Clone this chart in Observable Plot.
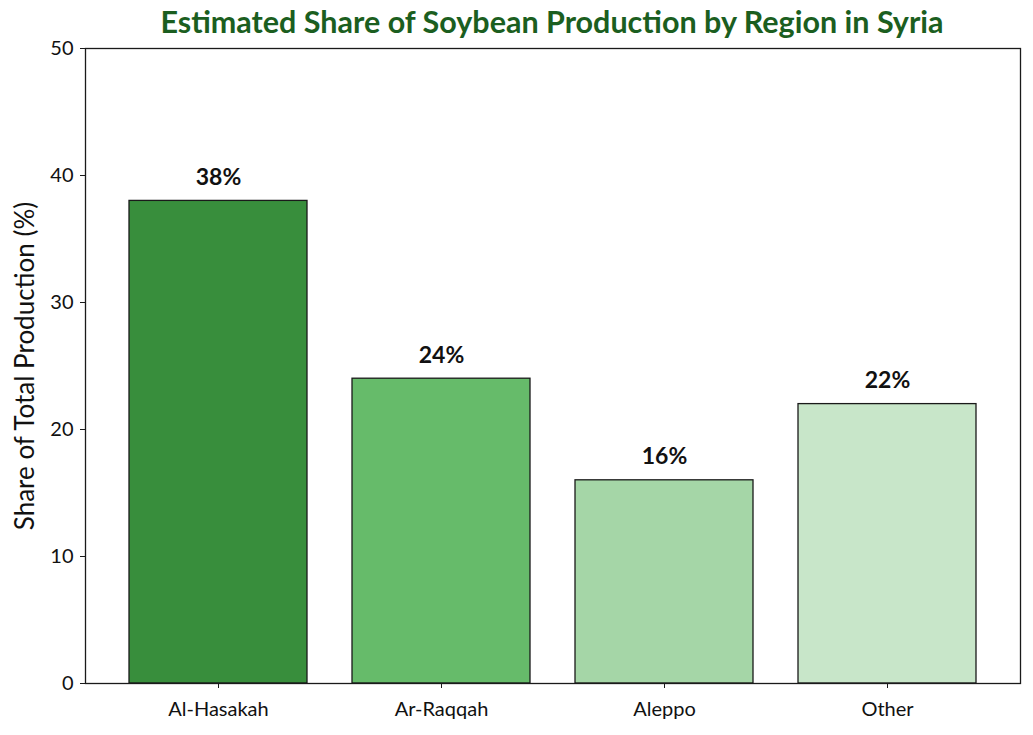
<!DOCTYPE html>
<html>
<head>
<meta charset="utf-8">
<script src="https://cdn.jsdelivr.net/npm/d3@7"></script>
<script src="https://cdn.jsdelivr.net/npm/@observablehq/plot@0.6"></script>
<style>
  body { margin: 0; background: #fff; font-family: Lato, "Noto Sans", sans-serif; }
  #title { height: 26px; width: 1033px; position: relative; z-index: 2; }
  #title span { position: absolute; left: 552px; top: 6px; transform: translateX(-50%); white-space: nowrap;
    font-weight: bold; font-size: 30.5px; line-height: 1; color: #1b5e20; }
</style>
</head>
<body>
<div id="title"><span>Estimated Share of Soybean Production by Region in Syria</span></div>
<div id="chart"></div>
<script>
const regions = ["Al-Hasakah", "Ar-Raqqah", "Aleppo", "Other"];
const shares = [38, 24, 16, 22];
const colors = ["#388e3c", "#66bb6a", "#a5d6a7", "#c8e6c9"];
const yTicks = [0, 10, 20, 30, 40, 50];
const yLabel = "Share of Total Production (%)";

const data = regions.map((r, i) => ({region: r, share: shares[i], color: colors[i]}));

const chart = Plot.plot({
  width: 1033,
  height: 709,
  marginTop: 22,
  marginBottom: 52,
  marginLeft: 85,
  marginRight: 13,
  style: {fontFamily: "Lato, 'Noto Sans', sans-serif", fontSize: "20px", color: "#111"},
  x: {domain: regions, paddingInner: 0.2, paddingOuter: 0.19, label: null},
  y: {domain: [0, 50], label: null},
  marks: [
    Plot.barY(data, {x: "region", y: "share", fill: "color", stroke: "#1a1a1a", strokeWidth: 1.3}),
    Plot.text(data, {x: "region", y: "share", text: d => d.share + "%", lineAnchor: "bottom", dy: -16,
      fontWeight: "bold", fontSize: 23, fill: "#111"}),
    Plot.frame({stroke: "#1a1a1a", strokeWidth: 1.3}),
    Plot.axisX({tickSize: 5, tickPadding: 13, fontSize: 20, stroke: "#1a1a1a", label: null}),
    Plot.axisY({ticks: yTicks, tickSize: 5, tickPadding: 7, fontSize: 20, stroke: "#1a1a1a", label: null}),
    Plot.text([yLabel], {frameAnchor: "left", textAnchor: "middle", rotate: -90, dx: -60, fontSize: 26, fill: "#111", text: d => d})
  ]
});
document.getElementById("chart").appendChild(chart);
</script>
</body>
</html>
